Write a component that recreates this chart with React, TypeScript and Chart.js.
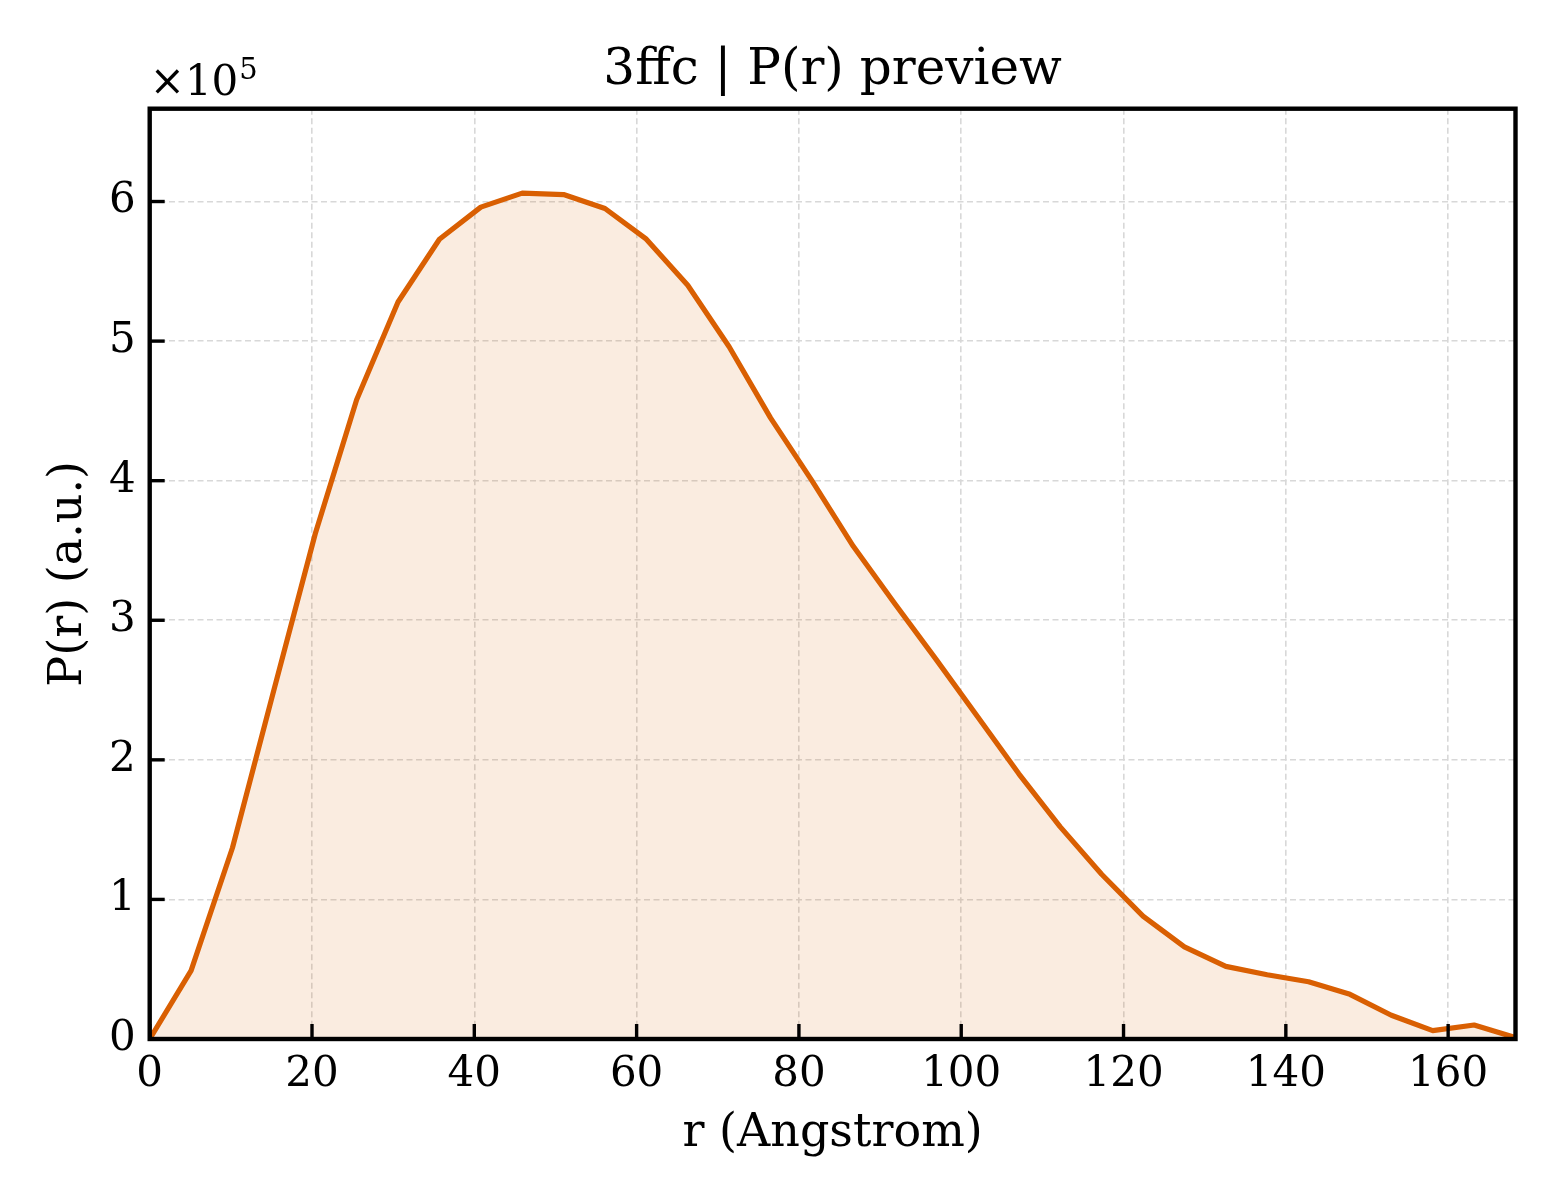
import React, { useEffect, useRef } from 'react';
import { Chart, registerables } from 'chart.js';

Chart.register(...registerables);

// ---- data (P(r) in units of 1e5) ----
const rValues = [
  0, 5.1, 10.2, 15.3, 20.4, 25.5, 30.6, 35.7, 40.8, 45.9, 51.0, 56.1,
  61.2, 66.3, 71.4, 76.5, 81.6, 86.7, 91.8, 96.9, 102.0, 107.1, 112.2,
  117.3, 122.4, 127.5, 132.6, 137.7, 142.8, 147.9, 153.0, 158.1, 163.2, 168.3,
];
const prValues = [
  0, 0.49, 1.37, 2.5, 3.62, 4.58, 5.28, 5.73, 5.96, 6.06, 6.05, 5.95,
  5.73, 5.4, 4.96, 4.45, 4.0, 3.53, 3.12, 2.72, 2.31, 1.9, 1.52,
  1.18, 0.88, 0.66, 0.52, 0.46, 0.41, 0.32, 0.17, 0.06, 0.1, 0.01,
];
const xTickValues = [0, 20, 40, 60, 80, 100, 120, 140, 160];
const yTickValues = [0, 1, 2, 3, 4, 5, 6];
const xMin = 0;
const xMax = 168.3;
const yMin = 0;
const yMax = 6.665;
const titleText = '3ffc | P(r) preview';
const xLabelText = 'r (Angstrom)';
const yLabelText = 'P(r) (a.u.)';
const offsetBase = '\u00d710';
const offsetExp = '5';

const SERIF = "'DejaVu Serif', serif";
const LINE_COLOR = '#d95f02';
const FILL_COLOR = 'rgba(217,95,2,0.12)';
const GRID_COLOR = '#d8d8d8';

const framePlugin = {
  id: 'mplFrame',
  afterDraw(chart: any) {
    const { ctx, chartArea } = chart;
    const { left, right, top, bottom } = chartArea;
    const xs = chart.scales.x;
    const ys = chart.scales.y;
    ctx.save();
    // inward ticks
    ctx.strokeStyle = '#000';
    ctx.lineWidth = 3.4;
    ctx.lineCap = 'butt';
    const tl = 15;
    xs.ticks.forEach((t: any) => {
      const px = xs.getPixelForValue(t.value);
      ctx.beginPath();
      ctx.moveTo(px, bottom);
      ctx.lineTo(px, bottom - tl);
      ctx.stroke();
    });
    ys.ticks.forEach((t: any) => {
      const py = ys.getPixelForValue(t.value);
      ctx.beginPath();
      ctx.moveTo(left, py);
      ctx.lineTo(left + tl, py);
      ctx.stroke();
    });
    // frame
    ctx.lineWidth = 4.4;
    ctx.lineJoin = 'miter';
    ctx.strokeRect(left, top, right - left, bottom - top);
    // offset text (x10^5)
    ctx.fillStyle = '#000';
    ctx.textAlign = 'left';
    ctx.textBaseline = 'alphabetic';
    ctx.font = `42px ${SERIF}`;
    const baseY = top - 13.5;
    ctx.fillText(offsetBase, left, baseY);
    const w = ctx.measureText(offsetBase).width;
    ctx.font = `29px ${SERIF}`;
    ctx.fillText(offsetExp, left + w + 1, baseY - 16);
    ctx.restore();
  },
};

export default function App() {
  const canvasRef = useRef<HTMLCanvasElement | null>(null);

  useEffect(() => {
    document.body.style.margin = '0';
    const canvas = canvasRef.current;
    if (!canvas) return;
    const chart = new Chart(canvas, {
      type: 'line',
      data: {
        datasets: [
          {
            data: rValues.map((r, i) => ({ x: r, y: prValues[i] })),
            borderColor: LINE_COLOR,
            backgroundColor: FILL_COLOR,
            borderWidth: 5.2,
            borderJoinStyle: 'round',
            borderCapStyle: 'round',
            pointRadius: 0,
            tension: 0,
            fill: 'origin',
          },
        ],
      },
      options: {
        responsive: false,
        animation: false,
        devicePixelRatio: 1,
        layout: { padding: { left: 0, right: 44.5, top: 0, bottom: 0 } },
        plugins: {
          legend: { display: false },
          tooltip: { enabled: false },
          title: {
            display: true,
            text: titleText,
            fullSize: false,
            color: '#000',
            font: { family: SERIF, size: 50, weight: 'normal', lineHeight: 1.2 },
            padding: { top: 41, bottom: 7.7 },
          },
        },
        scales: {
          x: {
            type: 'linear',
            min: xMin,
            max: xMax,
            afterBuildTicks: (scale: any) => {
              scale.ticks = xTickValues.map((v) => ({ value: v }));
            },
            afterFit: (scale: any) => {
              scale.height = 161;
            },
            ticks: {
              color: '#000',
              font: { family: SERIF, size: 42, lineHeight: 1.2 },
              padding: 11,
              maxRotation: 0,
              autoSkip: false,
              callback: (v: any) => String(v),
            },
            grid: { color: GRID_COLOR, lineWidth: 1.6, drawTicks: false },
            border: { display: false, dash: [6, 3.5] },
            title: {
              display: true,
              text: xLabelText,
              color: '#000',
              font: { family: SERIF, size: 46, lineHeight: 1.2 },
              padding: { top: 0, bottom: 38 },
            },
          },
          y: {
            type: 'linear',
            min: yMin,
            max: yMax,
            afterBuildTicks: (scale: any) => {
              scale.ticks = yTickValues.map((v) => ({ value: v }));
            },
            afterFit: (scale: any) => {
              scale.width = 149.7;
            },
            ticks: {
              color: '#000',
              font: { family: SERIF, size: 42, lineHeight: 1.2 },
              padding: 14,
              callback: (v: any) => String(v),
            },
            grid: { color: GRID_COLOR, lineWidth: 1.6, drawTicks: false },
            border: { display: false, dash: [6, 3.5] },
            title: {
              display: true,
              text: yLabelText,
              color: '#000',
              font: { family: SERIF, size: 46, lineHeight: 1.2 },
              padding: { top: 41.5, bottom: 0 },
            },
          },
        },
      },
      plugins: [framePlugin],
    } as any);
    return () => {
      chart.destroy();
    };
  }, []);

  return (
    <div style={{ width: 1560, height: 1200, background: '#fff' }}>
      <canvas ref={canvasRef} width={1560} height={1200} style={{ display: 'block' }} />
    </div>
  );
}
